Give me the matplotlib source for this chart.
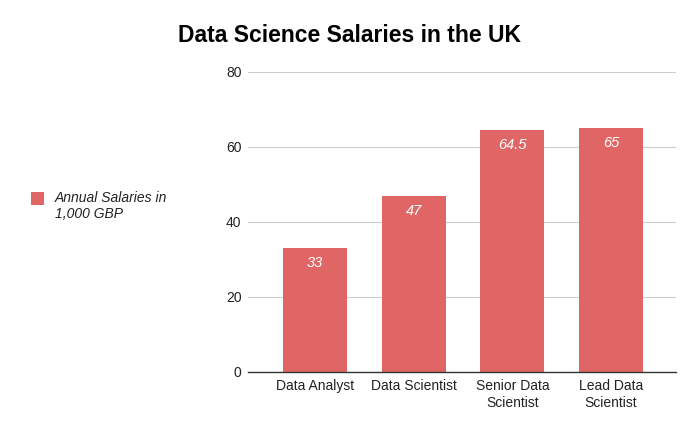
import matplotlib
matplotlib.use("Agg")
import matplotlib.pyplot as plt
from matplotlib.patches import Rectangle

categories = ["Data Analyst", "Data Scientist", "Senior Data\nScientist", "Lead Data\nScientist"]
salaries = [33, 47, 64.5, 65]
value_labels = ["33", "47", "64.5", "65"]
yticks = [0, 20, 40, 60, 80]

BAR = "#e06666"

plt.rcParams["font.family"] = ["Liberation Sans", "DejaVu Sans"]

fig = plt.figure(figsize=(7, 4.33), dpi=100)
ax = fig.add_axes([0.354, 0.141, 0.612, 0.693])

x = range(len(categories))
ax.bar(x, salaries, width=0.65, color=BAR, zorder=3)
for xi, v, lab in zip(x, salaries, value_labels):
    ax.annotate(lab, (xi, v), xytext=(0, -11), textcoords="offset points",
                ha="center", va="center", color="white", style="italic", fontsize=10.5, zorder=4)

ax.set_xlim(-0.68, 3.66)
ax.set_ylim(0, 80)
ax.set_yticks(yticks)
ax.set_xticks(list(x))
ax.set_xticklabels(categories, fontsize=10, color="#222222", linespacing=1.3)
ax.tick_params(axis="y", labelsize=10, labelcolor="#222222", length=0, pad=4.5)
ax.tick_params(axis="x", length=0, pad=5)
ax.grid(axis="y", color="#cccccc", linewidth=0.8, zorder=0)
for s in ["top", "right", "left"]:
    ax.spines[s].set_visible(False)
ax.spines["bottom"].set_color("#333333")
ax.spines["bottom"].set_linewidth(1.0)
ax.spines["bottom"].set_zorder(5)

fig.text(0.5, 1 - 36 / 433, "Data Science Salaries in the UK", ha="center", va="center",
         fontsize=16.5, fontweight="bold", color="black")

# legend drawn by hand on the left
fig.patches.append(Rectangle((31 / 700, 1 - 205 / 433), 13 / 700, 13 / 433,
                             transform=fig.transFigure, facecolor=BAR, edgecolor="none"))
fig.text(55 / 700, 1 - 206 / 433, "Annual Salaries in\n1,000 GBP", ha="left", va="center",
         fontsize=10, style="italic", color="#222222", linespacing=1.25)

fig.savefig("out.png", dpi=100, facecolor="white")
